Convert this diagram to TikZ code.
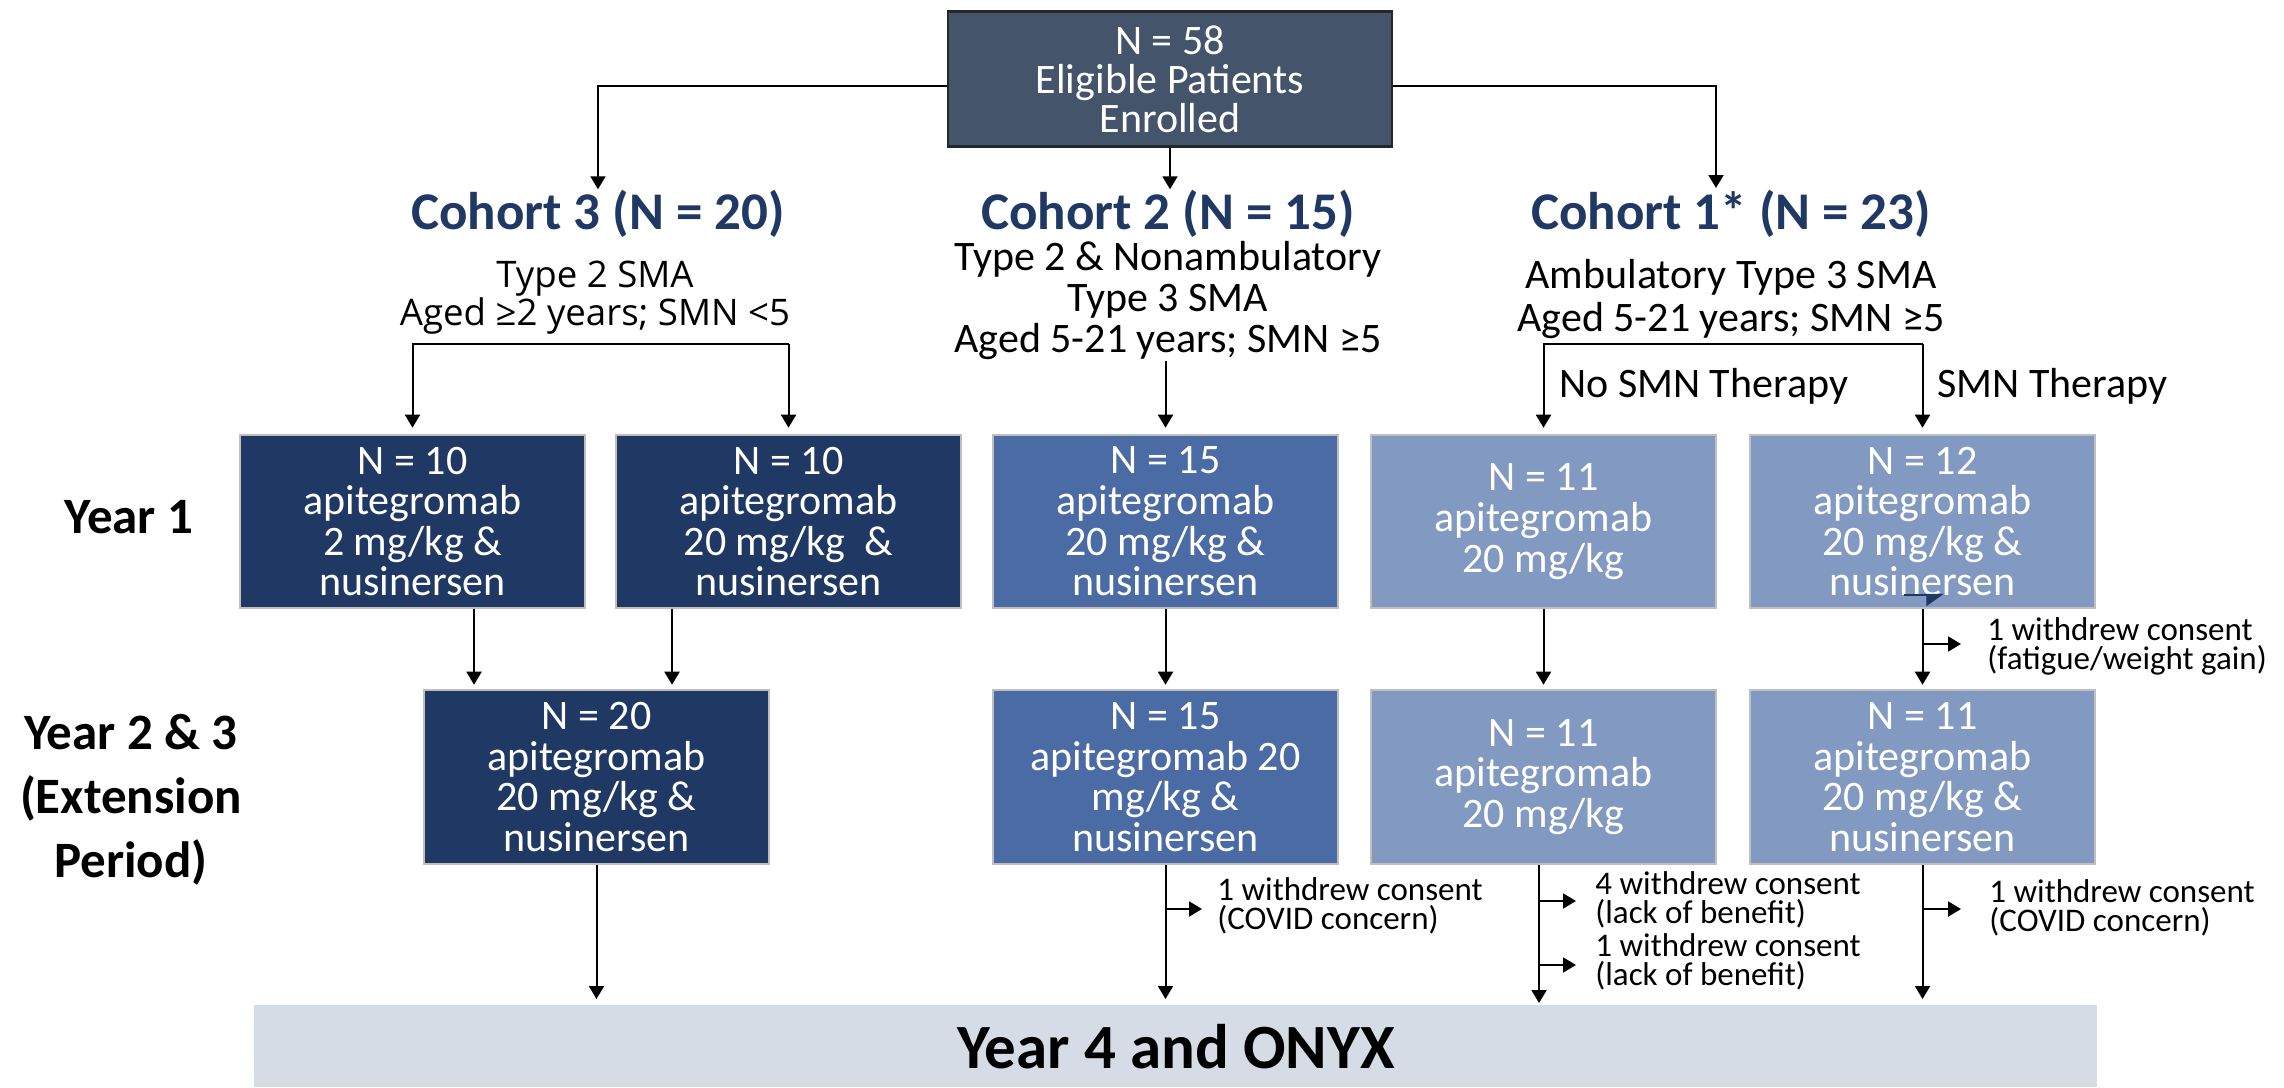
\documentclass[tikz,border=0pt]{standalone}
\usepackage{fontspec}
\setmainfont{Carlito}
\newfontfamily\osans{Open Sans}
\usetikzlibrary{arrows.meta}
\definecolor{topfill}{HTML}{44546A}
\definecolor{navy}{HTML}{203864}
\definecolor{midblue}{HTML}{4B6BA5}
\definecolor{lightblue}{HTML}{8299C1}
\definecolor{boxline}{HTML}{BFBFBF}
\definecolor{barfill}{HTML}{D6DCE5}
\begin{document}
\begin{tikzpicture}[x=0.5pt,y=-0.5pt,
  arr/.style={draw=black, line width=1pt, -{Triangle[length=6.5pt,width=7.5pt]}},
  tbox/.style={rectangle, draw=boxline, line width=1.3pt, minimum width=172.5pt, minimum height=86.5pt, text=white, align=center, font=\fontsize{21}{20.3}\selectfont, inner sep=0pt},
  dk/.style={tbox, fill=navy},
  md/.style={tbox, fill=midblue},
  lt/.style={tbox, fill=lightblue},
  head/.style={font=\fontsize{26.5}{28}\selectfont\bfseries, text=navy, inner sep=0pt},
  sub/.style={align=center, font=\fontsize{21}{20.5}\selectfont, inner sep=0pt},
  note/.style={align=left, anchor=west, font=\fontsize{16.5}{14.5}\selectfont, inner sep=0pt},
  yr/.style={align=center, font=\fontsize{25.5}{32}\selectfont\bfseries, inner sep=0pt}
]
\useasboundingbox (0,0) rectangle (2284,1087);

% top box
\node[rectangle, fill=topfill, draw=black!85, line width=1.2pt, minimum width=222pt, minimum height=67.5pt, text=white, align=center, font=\fontsize{21}{19.5}\selectfont, inner sep=0pt] (top) at (1170,79) {N = 58\\Eligible Patients\\Enrolled};

% headings
\node[head, anchor=base] (h3) at (598,229) {Cohort 3 (N = 20)};
\node[head, anchor=base] (h2) at (1168,229) {Cohort 2 (N = 15)};
\node[head, anchor=base] (h1) at (1731,229) {Cohort 1* (N = 23)};

% subtexts
\node[sub, font=\osans\fontsize{18.3}{19}\selectfont] (s3) at (595,298) {Type 2 SMA\\Aged ≥2 years; SMN <5};
\node[sub] (s2) at (1168,301) {Type 2 \& Nonambulatory\\Type 3 SMA\\Aged 5-21 years; SMN ≥5};
\node[sub, font=\fontsize{21}{21.5}\selectfont] (s1) at (1731,299) {Ambulatory Type 3 SMA\\Aged 5-21 years; SMN ≥5};

% year 1 boxes
\node[dk] (A) at (412.5,521.5) {N = 10\\apitegromab\\2 mg/kg \&\\nusinersen};
\node[dk] (B) at (788.5,521.5) {N = 10\\apitegromab\\20 mg/kg~~\&\\nusinersen};
\node[md] (C) at (1165.5,521.5) {N = 15\\apitegromab\\20 mg/kg \&\\nusinersen};
\node[lt] (D) at (1543.5,521.5) {N = 11\\apitegromab\\20 mg/kg};
\node[lt] (E) at (1922.5,521.5) {N = 12\\apitegromab\\20 mg/kg \&\\nusinersen};

% year 2 boxes
\node[dk, minimum height=87pt] (F) at (596.5,777) {N = 20\\apitegromab\\20 mg/kg \&\\nusinersen};
\node[md, minimum height=87pt] (G) at (1165.5,777) {N = 15\\apitegromab 20\\mg/kg \&\\nusinersen};
\node[lt, minimum height=87pt] (H) at (1543.5,777) {N = 11\\apitegromab\\20 mg/kg};
\node[lt, minimum height=87pt] (I) at (1922.5,777) {N = 11\\apitegromab\\20 mg/kg \&\\nusinersen};

% year labels
\node[yr] (y1) at (129,517) {Year 1};
\node[yr] (y2) at (131,800) {Year 2 \& 3\\(Extension\\Period)};

% bottom bar
\node[rectangle, fill=barfill, minimum width=921.5pt, minimum height=41pt, inner sep=0pt, anchor=north west, font=\fontsize{31.5}{34}\selectfont\bfseries] (bar) at (254,1005) {Year 4 and ONYX};

% top connectors
\draw[arr] ([yshift=-3.25pt]top.west) -| (h3.north);
\draw[arr] (top.south) -- (top.south |- h2.north);
\coordinate (c1in) at (1716,188);
\draw[arr] ([yshift=-3.25pt]top.east) -| (c1in);

% cohort 3 bracket
\coordinate (k3) at (0,344);
\draw[arr, shorten >=3pt] (B.north |- k3) -- (A.north |- k3) -- (A.north);
\draw[arr, shorten >=3pt] (B.north |- k3) -- (B.north);

% cohort 2
\draw[arr, shorten >=3pt] (C.north |- s2.south) -- (C.north);

% cohort 1 bracket
\coordinate (k1) at (0,344);
\draw[arr, shorten >=3pt] (E.north |- k1) -- (D.north |- k1) -- (D.north);
\draw[arr, shorten >=3pt] (E.north |- k1) -- (E.north);
\node[sub, anchor=west] (nsmn) at (1559,386) {No SMN Therapy};
\node[sub, anchor=west] (smn) at (1937,386) {SMN Therapy};

% year1 -> year2
\coordinate (xa) at (474,0);
\coordinate (xb) at (672,0);
\draw[arr, shorten >=2pt] (xa |- A.south) -- (xa |- F.north);
\draw[arr, shorten >=2pt] (xb |- B.south) -- (xb |- F.north);
\draw[arr, shorten >=2pt] (C.south) -- (G.north);
\draw[arr, shorten >=2pt] (D.south) -- (H.north);
\draw[arr, shorten >=2pt] (E.south) -- (I.north);
\coordinate (eb1) at (1922.5,644);
\coordinate (eb2) at (1961,644);
\draw[arr] (eb1) -- (eb2);
\node[note] (eN) at (1987,646.5) {1 withdrew consent\\(fatigue/weight gain)};

% small stray arrow inside box E
\coordinate (art1) at (1904,595);
\coordinate (art2) at (1944,595);
\draw[navy, line width=1.2pt, -{Triangle[harpoon,swap,length=8pt,width=11pt]}] (art1) -- (art2);

% year2 -> bar
\coordinate (xh) at (1539,0);
\draw[arr, shorten >=3pt] (F.south) -- (F.south |- bar.north);
\draw[arr, shorten >=3pt] (G.south) -- (G.south |- bar.north);
\draw[arr, shorten >=1pt] (xh |- H.south) -- (xh |- bar.north);
\draw[arr, shorten >=3pt] (I.south) -- (I.south |- bar.north);

\coordinate (gb1) at (1165.5,909);
\coordinate (gb2) at (1202,909);
\draw[arr] (gb1) -- (gb2);
\node[note] (gN) at (1217,905.5) {1 withdrew consent\\(COVID concern)};

\coordinate (hb1) at (1539,901);
\coordinate (hb2) at (1576,901);
\draw[arr] (hb1) -- (hb2);
\node[note] (hN1) at (1595,899.5) {4 withdrew consent\\(lack of benefit)};
\coordinate (hc1) at (1539,965);
\coordinate (hc2) at (1576,965);
\draw[arr] (hc1) -- (hc2);
\node[note] (hN2) at (1595,961.5) {1 withdrew consent\\(lack of benefit)};

\coordinate (ib1) at (1922.5,909);
\coordinate (ib2) at (1961,909);
\draw[arr] (ib1) -- (ib2);
\node[note] (iN) at (1989,907.5) {1 withdrew consent\\(COVID concern)};
\end{tikzpicture}
\end{document}
